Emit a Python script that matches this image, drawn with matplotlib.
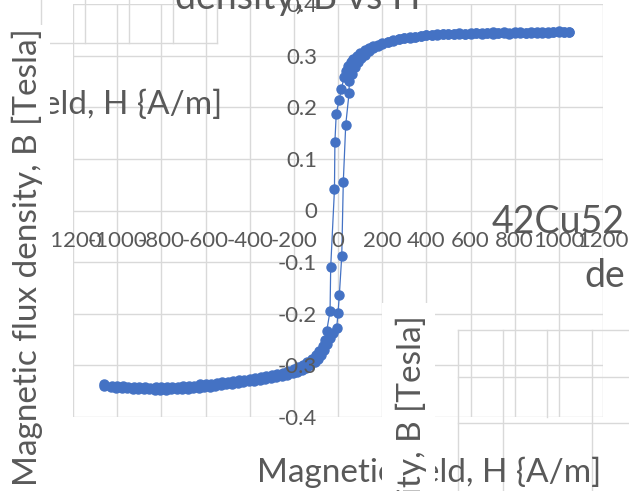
import numpy as np
import matplotlib.pyplot as plt
from matplotlib.patches import Rectangle
from matplotlib.lines import Line2D

plt.rcParams['font.family'] = ['Lato', 'DejaVu Sans']
plt.rcParams['axes.unicode_minus'] = False

# descending branch (H decreasing)
desc_h = [1048, 1025, 1000, 975, 950, 925, 900, 875, 850, 825, 800, 775, 750, 725, 700,
          675, 650, 625, 600, 575, 550, 525, 500, 475, 450, 425, 400, 375, 350, 325,
          300, 275, 250, 225, 200, 180, 160, 140, 120, 100, 85, 70, 58, 46, 36, 28,
          15, 5, -8, -14, -16, -33, -36, -51, -59, -70, -85, -100, -120, -140, -160,
          -180, -200, -225, -250, -275, -300, -325, -350, -375, -400, -425, -450, -475,
          -500, -525, -550, -575, -600, -625, -650, -675, -700, -725, -750, -775, -800,
          -825, -850, -875, -900, -925, -950, -975, -1000, -1025, -1058]
desc_b = [0.346, 0.345, 0.347, 0.345, 0.346, 0.344, 0.345, 0.346, 0.344, 0.345, 0.346,
          0.344, 0.345, 0.344, 0.345, 0.343, 0.344, 0.343, 0.344, 0.342, 0.343, 0.342,
          0.342, 0.341, 0.341, 0.340, 0.339, 0.338, 0.337, 0.336, 0.334, 0.332, 0.330,
          0.327, 0.324, 0.321, 0.318, 0.314, 0.310, 0.305, 0.300, 0.294, 0.287, 0.279,
          0.270, 0.259, 0.235, 0.214, 0.187, 0.133, 0.041, -0.109, -0.195, -0.233,
          -0.251, -0.262, -0.272, -0.280, -0.288, -0.294, -0.299, -0.303, -0.307,
          -0.311, -0.314, -0.317, -0.319, -0.321, -0.323, -0.325, -0.326, -0.328,
          -0.329, -0.331, -0.332, -0.333, -0.334, -0.336, -0.337, -0.337, -0.339,
          -0.339, -0.340, -0.341, -0.341, -0.342, -0.342, -0.342, -0.343, -0.342,
          -0.342, -0.341, -0.341, -0.340, -0.340, -0.339, -0.337]

# ascending branch (H increasing)
asc_h = [-1058, -1030, -1005, -980, -955, -930, -905, -880, -855, -830, -805, -780, -755,
         -730, -705, -680, -655, -630, -605, -580, -555, -530, -505, -480, -455, -430,
         -405, -380, -355, -330, -305, -280, -255, -230, -205, -185, -165, -145, -125,
         -105, -90, -75, -62, -50, -38, -24, -6, 0, 6, 17, 24, 35, 50, 51, 62, 75, 90,
         105, 120, 140, 160, 180, 200, 225, 250, 275, 300, 325, 350, 375, 400, 425, 450,
         475, 500, 525, 550, 575, 600, 625, 650, 675, 700, 725, 750, 775, 800, 825, 850,
         875, 900, 925, 950, 975, 1000, 1025, 1048]
asc_b = [-0.340, -0.342, -0.343, -0.343, -0.344, -0.345, -0.345, -0.346, -0.346, -0.347,
         -0.347, -0.347, -0.346, -0.346, -0.345, -0.345, -0.344, -0.343, -0.342, -0.341,
         -0.340, -0.338, -0.337, -0.336, -0.334, -0.333, -0.331, -0.330, -0.328, -0.327,
         -0.325, -0.323, -0.321, -0.318, -0.315, -0.312, -0.309, -0.305, -0.300, -0.294,
         -0.288, -0.280, -0.270, -0.259, -0.247, -0.238, -0.228, -0.199, -0.164, -0.088,
         0.056, 0.166, 0.227, 0.250, 0.265, 0.277, 0.287, 0.295, 0.301, 0.308, 0.314,
         0.318, 0.322, 0.326, 0.329, 0.332, 0.334, 0.335, 0.337, 0.338, 0.339, 0.340,
         0.340, 0.341, 0.341, 0.342, 0.341, 0.342, 0.342, 0.343, 0.342, 0.343, 0.342,
         0.343, 0.343, 0.342, 0.343, 0.344, 0.343, 0.344, 0.344, 0.345, 0.344, 0.345,
         0.345, 0.346, 0.346]

x_ticks = [-1200, -1000, -800, -600, -400, -200, 0, 200, 400, 600, 800, 1000, 1200]
y_ticks = [-0.4, -0.3, -0.2, -0.1, 0, 0.1, 0.2, 0.3, 0.4]
x_labels = [str(v) for v in x_ticks]
y_labels = ['-0.4', '-0.3', '-0.2', '-0.1', '0', '0.1', '0.2', '0.3', '0.4']

title_txt = 'density, B vs H'
x_title = 'Magnetic field, H {A/m]'
y_title = 'Magnetic flux density, B [Tesla]'

blue = '#4472C4'
grey = '#595959'
gridc = '#d9d9d9'

W, H = 629, 491
fig = plt.figure(figsize=(W / 100, H / 100), dpi=100)
ax = fig.add_axes([73 / W, 1 - 417 / H, 530 / W, 413 / H])

# gridlines drawn by hand so the tick labels can sit above the data
for v in x_ticks:
    ax.axvline(v, color=gridc, lw=1.0, zorder=1)
for v in y_ticks:
    ax.axhline(v, color=gridc, lw=1.0, zorder=1)

ax.plot(desc_h + asc_h, desc_b + asc_b, color=blue, lw=0.9, marker='o', ms=6.5,
        mfc=blue, mec=blue, zorder=3)

ax.set_xlim(-1200, 1200)
ax.set_ylim(-0.4, 0.4)
ax.set_xticks(x_ticks)
ax.set_xticklabels(x_labels)
ax.set_yticks(y_ticks)
ax.set_yticklabels(y_labels)
for s in ax.spines.values():
    s.set_visible(False)
ax.spines['bottom'].set_position(('data', 0))
ax.spines['left'].set_position(('data', 0))
ax.tick_params(length=0, labelsize=16, labelcolor=grey, pad=15)
ax.xaxis.set_zorder(4)
ax.yaxis.set_zorder(4)

def fx(x):
    return x / W

def fy(y):
    return 1 - y / H

# leftover gridlines from the overlapping copies
seg = [((41, 0), (41, 25)), ((85, 0), (85, 43)), ((129, 0), (129, 43)),
       ((173, 0), (173, 43)), ((217, 0), (217, 43)), ((50, 43), (217, 43)),
       ((458, 330), (629, 330)), ((458, 377), (629, 377)), ((458, 423), (629, 423)),
       ((458, 330), (458, 491)), ((503, 330), (503, 491)), ((547, 330), (547, 417)),
       ((592, 330), (592, 491))]
for (x0, y0), (x1, y1) in seg:
    fig.add_artist(Line2D([fx(x0), fx(x1)], [fy(y0), fy(y1)], color=gridc, lw=1.0,
                          transform=fig.transFigure, zorder=2))

# title (cut off at the top)
fig.text(fx(175), fy(9), title_txt, fontsize=27, color=grey, ha='left', va='baseline', zorder=3)
fig.text(fx(625), fy(233), '42Cu52', fontsize=27, color=grey, ha='right', va='baseline', zorder=3)
fig.text(fx(625), fy(287), 'de', fontsize=27, color=grey, ha='right', va='baseline', zorder=3)

# x axis titles
fig.text(fx(257), fy(482), x_title, fontsize=24, color=grey, ha='left', va='baseline', zorder=3)
fig.text(fx(222), fy(114), x_title, fontsize=24, color=grey, ha='right', va='baseline', zorder=3)

# white boxes behind y titles
fig.add_artist(Rectangle((0, 0), fx(50), fy(25), transform=fig.transFigure,
                         fc='white', ec='none', zorder=4))
fig.add_artist(Rectangle((fx(382), 0), fx(53), fy(303), transform=fig.transFigure,
                         fc='white', ec='none', zorder=4))

fig.text(fx(27), fy(28), y_title, fontsize=24, color=grey, rotation=90,
         ha='center', va='top', zorder=5)
fig.text(fx(411), fy(315), y_title, fontsize=24, color=grey, rotation=90,
         ha='center', va='top', zorder=5)

fig.savefig('out.png', dpi=100)
